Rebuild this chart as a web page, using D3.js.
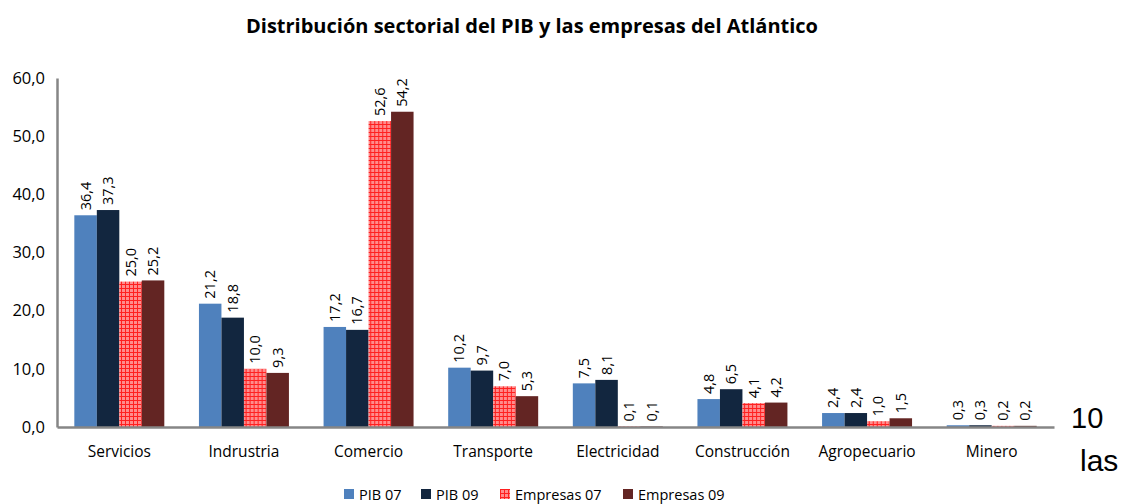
<!DOCTYPE html>
<html>
<head>
<meta charset="utf-8">
<script src="https://cdn.jsdelivr.net/npm/d3@7"></script>
<style>
  body { margin: 0; background: white; }
  svg { display: block; }
</style>
</head>
<body>
<svg class="canvas"></svg>
<script>
// data
let categories = ["Servicios", "Indrustria", "Comercio", "Transporte", "Electricidad", "Construcción", "Agropecuario", "Minero"];
let series_names = ["PIB 07", "PIB 09", "Empresas 07", "Empresas 09"];
let pib07 = [36.4, 21.2, 17.2, 10.2, 7.5, 4.8, 2.4, 0.3];
let pib09 = [37.3, 18.8, 16.7, 9.7, 8.1, 6.5, 2.4, 0.3];
let emp07 = [25.0, 10.0, 52.6, 7.0, 0.1, 4.1, 1.0, 0.2];
let emp09 = [25.2, 9.3, 54.2, 5.3, 0.1, 4.2, 1.5, 0.2];
let y_ticks = [0, 10, 20, 30, 40, 50, 60];

let width = 1123;
let height = 504;
let plot_left = 57, plot_right = 1054, plot_top = 78, plot_bottom = 427;
let fills = ["#4f81bd", "#12263f", "url(#grid)", "#632523"];
let font = "'Open Sans', 'DejaVu Sans', sans-serif";

let all_series = [pib07, pib09, emp07, emp09];
let fmt = v => v.toFixed(1).replace(".", ",");

let svg = d3.select(".canvas")
    .attr("width", width)
    .attr("height", height)
    .style("background", "white");

// checkered pattern for Empresas 07
let pat = svg.append("defs").append("pattern")
    .attr("id", "grid")
    .attr("patternUnits", "userSpaceOnUse")
    .attr("width", 4).attr("height", 4);
pat.append("rect").attr("width", 4).attr("height", 4).attr("fill", "#ff8c8c");
pat.append("rect").attr("width", 4).attr("height", 1).attr("fill", "#ff2020");
pat.append("rect").attr("width", 1).attr("height", 4).attr("fill", "#ff2020");

let x = d3.scaleBand().domain(categories).range([plot_left, plot_right]);
let xs = d3.scaleBand().domain(d3.range(4)).range([0, x.bandwidth()]).paddingOuter(0.77);
let y = d3.scaleLinear().domain([0, 60]).range([plot_bottom, plot_top]);

svg.append("text")
    .attr("x", 532).attr("y", 33)
    .attr("text-anchor", "middle")
    .style("font-family", font)
    .style("font-weight", "bold")
    .style("font-size", "20px")
    .text("Distribución sectorial del PIB y las empresas del Atlántico");

// bars
let groups = svg.selectAll(".group")
    .data(categories)
    .enter()
    .append("g")
    .attr("class", "group")
    .attr("transform", c => "translate(" + x(c) + ",0)");

groups.each(function(c, ci) {
    let g = d3.select(this);
    all_series.forEach(function(s, si) {
        let v = s[ci];
        g.append("rect")
            .attr("x", xs(si))
            .attr("y", y(v))
            .attr("width", xs.bandwidth())
            .attr("height", y(0) - y(v))
            .attr("fill", fills[si]);
        let lx = xs(si) + xs.bandwidth() / 2 + 5;
        let ly = y(v) - 5;
        g.append("text")
            .attr("transform", "translate(" + lx + "," + ly + ") rotate(-90)")
            .style("font-family", font)
            .style("font-size", "14.5px")
            .style("fill", "#000")
            .text(fmt(v));
    });
});

// axes
let yAxis = d3.axisLeft(y).tickValues(y_ticks).tickSize(0).tickPadding(12).tickFormat(fmt);
let ya = svg.append("g").attr("transform", "translate(" + plot_left + ",0)").call(yAxis);
ya.select(".domain").attr("stroke", "#868686").attr("stroke-width", 2.5);
ya.selectAll("text").style("font-family", font).style("font-size", "16.5px").attr("fill", "#000");

let xAxis = d3.axisBottom(x).tickSize(0).tickPadding(19);
let xa = svg.append("g").attr("transform", "translate(0," + plot_bottom + ")").call(xAxis);
xa.select(".domain").attr("stroke", "#868686").attr("stroke-width", 2.5);
xa.selectAll("text").style("font-family", font).style("font-size", "15.5px").attr("fill", "#000");

// legend
let legend_x = [344, 421, 500, 623];
let lg = svg.selectAll(".legend")
    .data(series_names)
    .enter()
    .append("g")
    .attr("class", "legend")
    .attr("transform", (d, i) => "translate(" + legend_x[i] + ",489)");
lg.append("rect").attr("width", 10).attr("height", 10).attr("fill", (d, i) => fills[i]);
lg.append("text")
    .attr("x", 15).attr("y", 11)
    .style("font-family", font)
    .style("font-size", "14.5px")
    .text(d => d);

// stray text at the right
svg.append("text").attr("x", 1071).attr("y", 428)
    .style("font-family", "'Liberation Sans', Arial, sans-serif").style("font-size", "29px").text("10");
svg.append("text").attr("x", 1080).attr("y", 471)
    .style("font-family", "'Liberation Sans', Arial, sans-serif").style("font-size", "30px").text("las");
</script>
</body>
</html>
